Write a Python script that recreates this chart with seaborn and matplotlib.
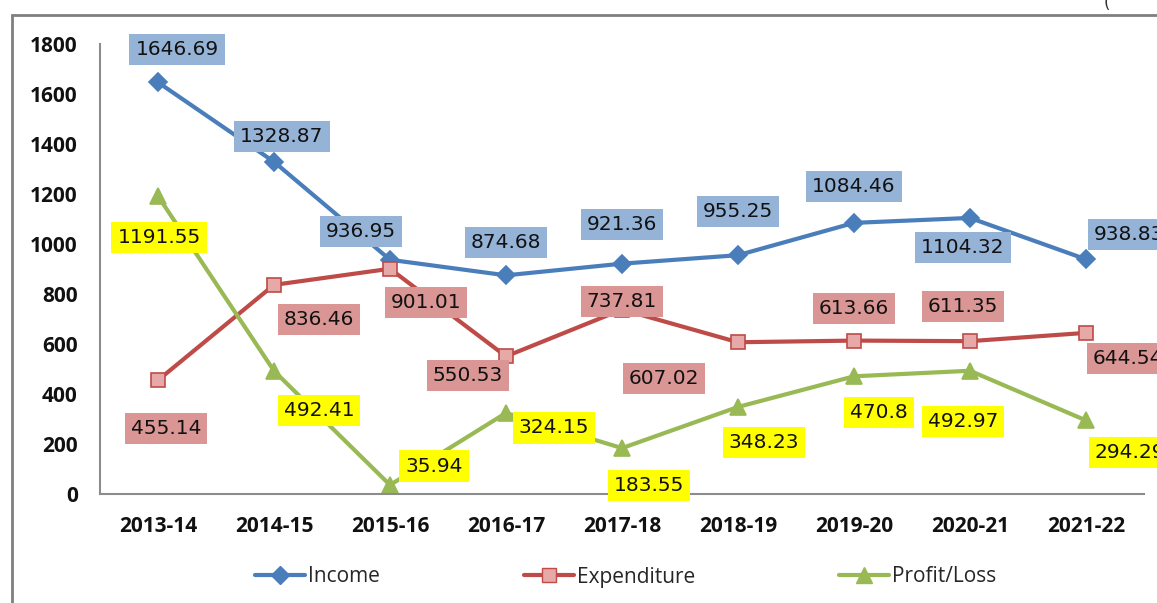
import matplotlib
matplotlib.use("Agg")
import matplotlib.pyplot as plt
import matplotlib.patches as mpatches
from matplotlib.lines import Line2D
import seaborn as sns
import numpy as np
import pandas as pd

years = ["2013-14", "2014-15", "2015-16", "2016-17", "2017-18",
         "2018-19", "2019-20", "2020-21", "2021-22"]
income = [1646.69, 1328.87, 936.95, 874.68, 921.36, 955.25, 1084.46, 1104.32, 938.83]
expenditure = [455.14, 836.46, 901.01, 550.53, 737.81, 607.02, 613.66, 611.35, 644.54]
profit = [1191.55, 492.41, 35.94, 324.15, 183.55, 348.23, 470.8, 492.97, 294.29]

# label offsets (pixels) from each point
income_off = [(19, 33), (8, 25), (-29, 28), (0, 33), (0, 39), (0, 44), (0, 36), (-7, -30), (43, 25)]
exp_off = [(8, -48), (45, -35), (36, -34), (-38, -19), (0, 8), (-74, -36), (0, 32), (-7, 35), (42, -26)]
profit_off = [(1, -41), (45, -40), (44, 19), (48, -15), (27, -37), (26, -36), (25, -36), (-7, -51), (44, -32)]

sns.set_style("white")
plt.rcParams["font.family"] = ["DejaVu Sans"]

fig = plt.figure(figsize=(11.57, 6.03), dpi=100)
ax = fig.add_axes([100 / 1157, 1 - 494 / 603, 1044 / 1157, 450 / 603])

df = pd.DataFrame({"pos": np.arange(len(years)), "Income": income,
                   "Expenditure": expenditure, "Profit/Loss": profit})

series = [
    ("Income", income_off, "#4A7EBB", "D", "#4A7EBB", "#4A7EBB", "#95B3D7", 9),
    ("Expenditure", exp_off, "#BE4B48", "s", "#E6A9A7", "#BE4B48", "#D99694", 10),
    ("Profit/Loss", profit_off, "#98B954", "^", "#98B954", "#98B954", "#FFFF00", 11),
]

handles = []
for name, offs, lc, mk, mfc, mec, boxc, ms in series:
    sns.lineplot(data=df, x="pos", y=name, ax=ax, color=lc, linewidth=3,
                 marker=mk, markersize=ms, markerfacecolor=mfc,
                 markeredgecolor=mec, markeredgewidth=1.2)
    for xi, yi, (dx, dy) in zip(df["pos"], df[name], offs):
        ax.annotate(f"{yi:g}", (xi, yi), xytext=(dx, dy), textcoords="offset pixels",
                    ha="center", va="center", fontsize=14.5, color="#111111",
                    bbox=dict(boxstyle="square,pad=0.3", fc=boxc, ec="none"),
                    annotation_clip=False, zorder=5)
    handles.append(Line2D([0], [0], color=lc, linewidth=3, marker=mk, markersize=ms,
                          markerfacecolor=mfc, markeredgecolor=mec, label=name))

ax.set_xlim(-0.5, len(years) - 0.5)
ax.set_ylim(0, 1800)
ax.set_xticks(np.arange(len(years)))
ax.set_xticklabels(years)
ax.set_yticks(np.arange(0, 1801, 200))
ax.set_xlabel("")
ax.set_ylabel("")
for lab in ax.get_xticklabels() + ax.get_yticklabels():
    lab.set_fontfamily("Open Sans")
    lab.set_fontweight("bold")
    lab.set_fontsize(15)
    lab.set_color("#111111")
ax.tick_params(axis="y", length=0, pad=16)
ax.tick_params(axis="x", length=0, pad=16)
ax.spines["top"].set_visible(False)
ax.spines["right"].set_visible(False)
ax.spines["left"].set_color("#8c8c8c")
ax.spines["bottom"].set_color("#8c8c8c")
ax.spines["left"].set_linewidth(1.5)
ax.spines["bottom"].set_linewidth(1.5)

leg = fig.legend(handles=handles, loc="center", bbox_to_anchor=(0.541, 1 - 577 / 603),
                 ncol=3, frameon=False, handlelength=2.4, handletextpad=0.15,
                 columnspacing=6.9, prop={"family": "Open Sans", "size": 15})

border = mpatches.Rectangle((12 / 1157, -0.05), 1.2, 1.05 - 15 / 603,
                            transform=fig.transFigure, fill=False,
                            edgecolor="#7f7f7f", linewidth=2)
fig.patches.append(border)
fig.text(1104 / 1157, 0.995, "(", fontsize=12, va="center", ha="left", color="#333333")

fig.savefig("out.png", dpi=100)
